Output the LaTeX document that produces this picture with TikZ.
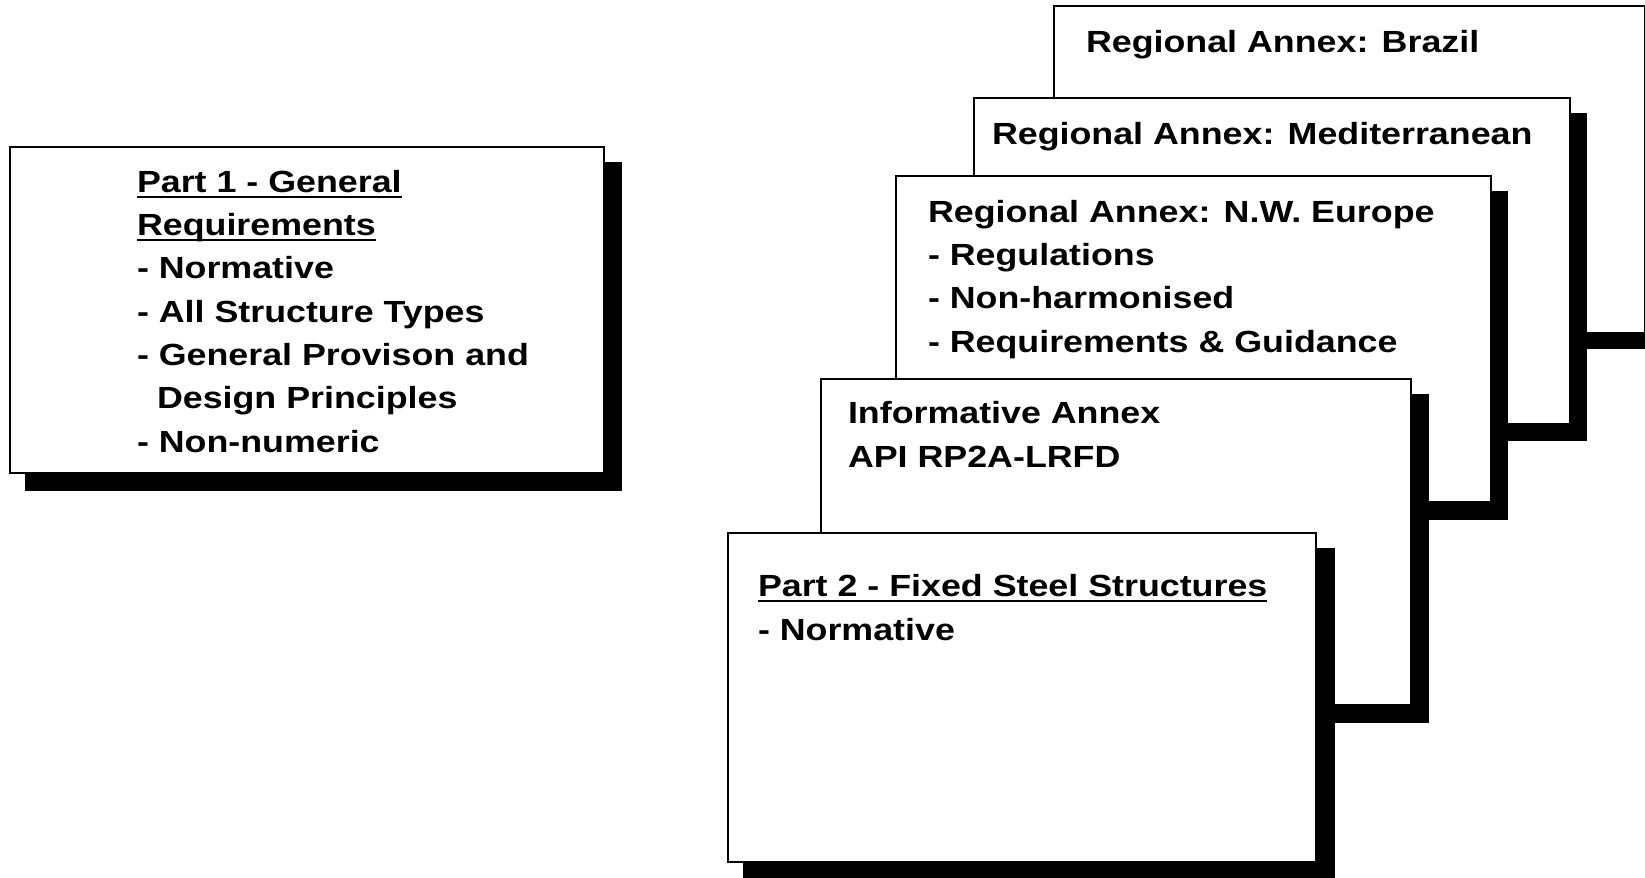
\documentclass[tikz,border=0pt]{standalone}
\usepackage{fontspec}
\setmainfont{Liberation Sans}[FakeStretch=1.17]
\begin{document}
\begin{tikzpicture}[x=0.5pt,y=-0.5pt,
  shadowbox/.style={fill=black},
  mainbox/.style={draw=black,fill=white,line width=1.3pt},
  txt/.style={anchor=base west,inner sep=0pt,outer sep=0pt,font=\fontsize{15.3pt}{18pt}\selectfont\bfseries},
  ul/.style={line width=1.1pt}]
\useasboundingbox (0,0) rectangle (1645,878);
\clip (0,0) rectangle (1645,878);
\fill[white] (0,0) rectangle (1645,878);
% Part 1 box
\fill[shadowbox] (25,162) rectangle (622,491);
\draw[mainbox] (10,147) rectangle (604,473);
\node[txt] (p1a) at (137,192) {Part 1 - General};
\node[txt] (p1b) at (137,235) {Requirements};
\node[txt] (p1c) at (137,278) {- Normative};
\node[txt] (p1d) at (137,322) {- All Structure Types};
\node[txt] (p1e) at (137,365) {- General Provison and};
\node[txt] (p1f) at (157,408) {Design Principles};
\node[txt] (p1g) at (137,452) {- Non-numeric};
\draw[ul] ([yshift=-2.6pt]p1a.base west) -- ([yshift=-2.6pt]p1a.base east);
\draw[ul] ([yshift=-2.6pt]p1b.base west) -- ([yshift=-2.6pt]p1b.base east);
% Brazil
\fill[shadowbox] (1069,21) rectangle (1663,349);
\draw[mainbox] (1054,6) rectangle (1645,333);
\node[txt] (br) at (1086,52) {Regional Annex: Brazil};
% Mediterranean
\fill[shadowbox] (989,113) rectangle (1587,441);
\draw[mainbox] (974,98) rectangle (1570,424);
\node[txt] (med) at (992,144) {Regional Annex: Mediterranean};
% N.W. Europe
\fill[shadowbox] (911,191) rectangle (1508,520);
\draw[mainbox] (896,176) rectangle (1491,502);
\node[txt] (nwa) at (928,222) {Regional Annex: N.W. Europe};
\node[txt] (nwb) at (928,265) {- Regulations};
\node[txt] (nwc) at (928,308) {- Non-harmonised};
\node[txt] (nwd) at (928,352) {- Requirements \& Guidance};
% Informative
\fill[shadowbox] (836,394) rectangle (1429,723);
\draw[mainbox] (821,379) rectangle (1411,705);
\node[txt] (ia) at (848,423) {Informative Annex};
\node[txt] (ib) at (848,467) {API RP2A-LRFD};
% Part 2
\fill[shadowbox] (743,548) rectangle (1335,880);
\draw[mainbox] (728,533) rectangle (1316,862);
\node[txt] (p2a) at (758,596) {Part 2 - Fixed Steel Structures};
\node[txt] (p2b) at (758,640) {- Normative};
\draw[ul] ([yshift=-2.4pt]p2a.base west) -- ([yshift=-2.4pt]p2a.base east);
\end{tikzpicture}
\end{document}
